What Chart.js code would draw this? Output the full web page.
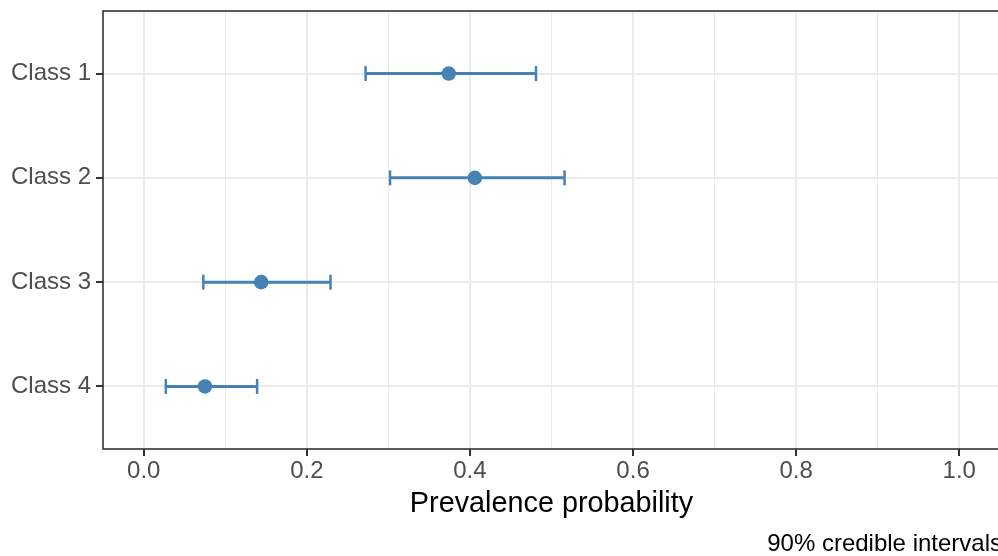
<!DOCTYPE html>
<html>
<head>
<meta charset="utf-8">
<script src="https://cdn.jsdelivr.net/npm/chart.js@4/dist/chart.umd.min.js"></script>
<style>
html, body { margin: 0; padding: 0; background: #ffffff; overflow: hidden; width: 998px; height: 556px; }
canvas { display: block; }
</style>
</head>
<body>
<canvas id="c" width="1010" height="556"></canvas>
<script>
// ---- data ----
const categories = ['Class 1', 'Class 2', 'Class 3', 'Class 4'];
const estimates  = [0.374, 0.406, 0.144, 0.075];
const lowerCI    = [0.272, 0.302, 0.073, 0.027];
const upperCI    = [0.481, 0.516, 0.229, 0.139];
const xTickValues = [0, 0.1, 0.2, 0.3, 0.4, 0.5, 0.6, 0.7, 0.8, 0.9, 1.0];
const xTickLabels = ['0.0', '', '0.2', '', '0.4', '', '0.6', '', '0.8', '', '1.0'];
const xAxisTitle = 'Prevalence probability';
const captionText = '90% credible intervals';

const BLUE = '#4682B4';
const GRID = '#EBEBEB';
const DARK = '#333333';
const FONT = "'Liberation Sans', Arial, Helvetica, sans-serif";

function xIndex(v) { return xTickValues.findIndex(t => Math.abs(t - v) < 1e-9); }
function isMajor(v) { const i = xIndex(v); return i >= 0 && xTickLabels[i] !== ''; }

const errorSets = categories.map((c, i) => ({
  type: 'scatter',
  label: c + ' interval',
  data: [{x: lowerCI[i], y: i}, {x: upperCI[i], y: i}],
  showLine: true,
  borderColor: BLUE,
  borderWidth: 3,
  pointStyle: 'line',
  rotation: 90,
  pointRadius: 7.5,
  pointBorderColor: BLUE,
  pointBorderWidth: 2.5,
  pointBackgroundColor: BLUE,
  order: 2
}));

const pointSet = {
  type: 'scatter',
  label: 'Estimate',
  data: categories.map((c, i) => ({x: estimates[i], y: i})),
  pointRadius: 7.3,
  pointBackgroundColor: BLUE,
  pointBorderWidth: 0,
  pointBorderColor: BLUE,
  order: 1
};

const borderPlugin = {
  id: 'panelBorder',
  afterDatasetsDraw(chart) {
    const a = chart.chartArea, ctx = chart.ctx;
    ctx.save();
    ctx.strokeStyle = DARK;
    ctx.lineWidth = 1.6;
    ctx.strokeRect(a.left, a.top, a.right - a.left, a.bottom - a.top);
    ctx.restore();
  }
};

new Chart(document.getElementById('c'), {
  type: 'scatter',
  data: { datasets: [pointSet, ...errorSets] },
  plugins: [borderPlugin],
  options: {
    responsive: false,
    animation: false,
    devicePixelRatio: 1,
    layout: { padding: { left: 0, right: 8, top: 11, bottom: 0 } },
    plugins: {
      legend: { display: false },
      tooltip: { enabled: false },
      title: {
        display: true,
        position: 'bottom',
        align: 'end',
        text: captionText,
        color: '#000000',
        font: { family: FONT, size: 24, weight: 'normal', lineHeight: 1 },
        padding: { top: 0, bottom: 0 }
      }
    },
    scales: {
      x: {
        type: 'linear',
        position: 'bottom',
        min: -0.05,
        max: 1.05,
        afterBuildTicks(scale) { scale.ticks = xTickValues.map(v => ({value: v})); },
        afterFit(scale) { scale.height = 83; scale.paddingLeft = 0; scale.paddingRight = 0; },
        ticks: {
          autoSkip: false,
          maxRotation: 0,
          padding: 1,
          color: '#4D4D4D',
          font: { family: FONT, size: 24, lineHeight: 1.2 },
          callback(v) { const i = xIndex(v); return i >= 0 ? xTickLabels[i] : ''; }
        },
        grid: {
          color: GRID,
          lineWidth: ctx => (ctx.tick && isMajor(ctx.tick.value)) ? 2 : 1,
          drawTicks: true,
          tickLength: 7,
          tickWidth: 2,
          tickColor: ctx => (ctx.tick && isMajor(ctx.tick.value)) ? DARK : 'rgba(0,0,0,0)'
        },
        border: { display: false },
        title: {
          display: true,
          text: xAxisTitle,
          color: '#000000',
          font: { family: FONT, size: 28.8, lineHeight: 1 },
          padding: { top: 0, bottom: 13.6 }
        }
      },
      y: {
        type: 'linear',
        reverse: true,
        min: -0.6,
        max: 3.6,
        afterBuildTicks(scale) { scale.ticks = categories.map((c, i) => ({value: i})); },
        afterFit(scale) { scale.width = 103; scale.paddingTop = 0; scale.paddingBottom = 0; },
        ticks: {
          autoSkip: false,
          padding: 5,
          color: '#4D4D4D',
          font: { family: FONT, size: 24, lineHeight: 1.2 },
          callback(v) { return categories[v] !== undefined ? categories[v] : ''; }
        },
        grid: {
          color: GRID,
          lineWidth: 2,
          drawTicks: true,
          tickLength: 7,
          tickWidth: 2,
          tickColor: DARK
        },
        border: { display: false }
      }
    }
  }
});
</script>
</body>
</html>
